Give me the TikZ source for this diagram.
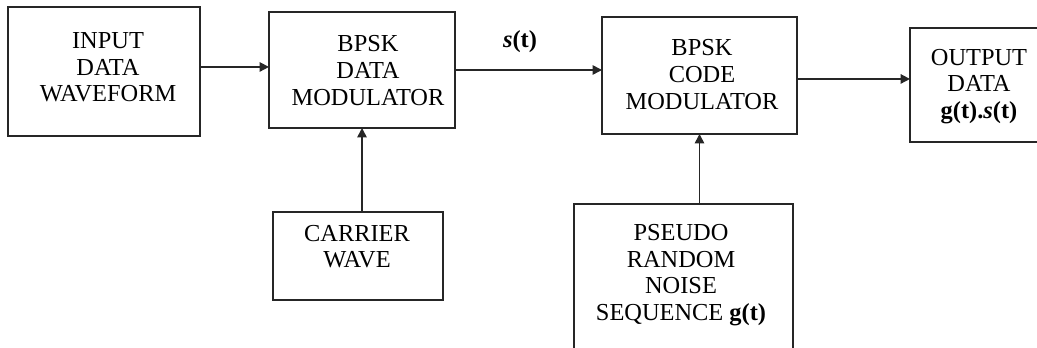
\documentclass[tikz,border=0pt]{standalone}
\usepackage{fontspec}
\setmainfont{Liberation Serif}
\usetikzlibrary{arrows.meta}

\tikzset{
  blk/.style={draw=black!85, line width=1.4pt, inner sep=0pt, outer sep=0pt, rectangle},
  txt/.style={align=center, inner sep=0pt, font=\fontsize{18.3pt}{20pt}\selectfont},
  flow/.style={draw=black!85, line width=1.2pt, -{Triangle[length=7pt,width=7pt]}}
}

\begin{document}
\begin{tikzpicture}[x=0.75pt, y=-0.75pt]
  \useasboundingbox (0,0) rectangle (1037,348);
  \clip (0,0) rectangle (1037,348);

  % processing blocks
  \node[blk, minimum width=144pt,    minimum height=96.75pt] (b1) at (104,71.5)   {};
  \node[blk, minimum width=139.5pt,  minimum height=87pt]    (b2) at (362,70)     {};
  \node[blk, minimum width=146.25pt, minimum height=87.75pt] (b3) at (699.5,75.5) {};
  \node[blk, minimum width=101.25pt, minimum height=85.5pt]  (b4) at (977.5,85)   {};
  \node[blk, minimum width=127.5pt,  minimum height=66pt]    (b5) at (358,256)    {};
  \node[blk, minimum width=164.25pt, minimum height=114pt]   (b6) at (683.5,280)  {};

  % block captions
  \node[txt] (t1) at (108,67.5)  {INPUT\hspace{0.6em}\\DATA\hspace{0.9em}\\WAVEFORM};
  \node[txt] (t2) at (368,70.5)  {BPSK\hspace{0.3em}\\DATA\hspace{0.3em}\\MODULATOR};
  \node[txt] (t3) at (702,74.7)  {BPSK\hspace{0.3em}\\CODE\hspace{0.3em}\\MODULATOR};
  \node[txt] (t4) at (979,86.5)  {OUTPUT\\DATA\\\textbf{g(t).\textit{s}(t)}};
  \node[txt] (t5) at (357,246.7) {CARRIER\\WAVE};
  \node[txt] (t6) at (681,275)   {PSEUDO\\RANDOM\\NOISE\\SEQUENCE \textbf{g(t)}};

  % signal label
  \node[txt] (st) at (520,42) {\textbf{\textit{s}(t)}};

  % signal flow
  \draw[flow] ([yshift=3.4pt]b1.east) -- ([yshift=3.4pt]b1.east -| b2.west);
  \draw[flow] (b2.east) -- (b2.east -| b3.west);
  \draw[flow] ([yshift=-2.6pt]b3.east) -- ([yshift=-2.6pt]b3.east -| b4.west);
  \draw[flow] (b2.south |- b5.north) -- (b2.south);
  \draw[flow] (b3.south |- b6.north) -- (b3.south);
\end{tikzpicture}
\end{document}
